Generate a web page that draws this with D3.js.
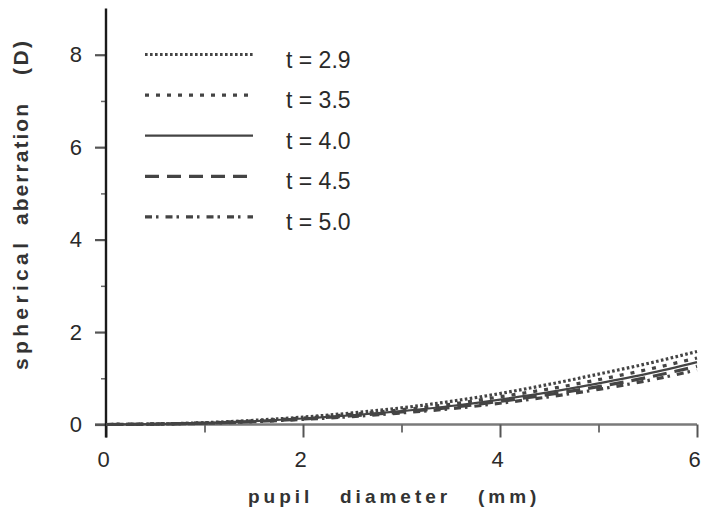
<!DOCTYPE html>
<html><head><meta charset="utf-8">
<script src="https://cdn.jsdelivr.net/npm/d3@7"></script>
<style>html,body{margin:0;padding:0;background:#fff;}svg{display:block;}</style>
</head><body>
<svg id="c" width="703" height="521"></svg>
<script>
// ---- data ----
const diameters = [0, 0.5, 1, 1.5, 2, 2.5, 3, 3.5, 4, 4.5, 5, 5.5, 6];
const seriesNames = ["t = 2.9", "t = 3.5", "t = 4.0", "t = 4.5", "t = 5.0"];
const sa_t29 = [0, 0.01, 0.04, 0.09, 0.16, 0.25, 0.36, 0.50, 0.67, 0.87, 1.09, 1.32, 1.58];
const sa_t35 = [0, 0.01, 0.035, 0.08, 0.14, 0.22, 0.32, 0.44, 0.60, 0.77, 0.97, 1.19, 1.44];
const sa_t40 = [0, 0.01, 0.03, 0.07, 0.13, 0.20, 0.29, 0.40, 0.54, 0.70, 0.89, 1.10, 1.35];
const sa_t45 = [0, 0.01, 0.03, 0.065, 0.12, 0.19, 0.27, 0.37, 0.50, 0.65, 0.82, 1.02, 1.26];
const sa_t50 = [0, 0.01, 0.025, 0.06, 0.11, 0.17, 0.25, 0.34, 0.46, 0.60, 0.76, 0.95, 1.18];
const xTicks = [0, 2, 4, 6];
const xMinorTicks = [1, 3, 5];
const yTicks = [0, 2, 4, 6, 8];
const yMinorTicks = [1, 3, 5, 7];
const xTitleWords = ["pupil", "diameter", "(mm)"];
const yTitleWords = ["spherical", "aberration", "(D)"];

// ---- styles ----
const dashes = ["2.6,2.4", "4,7", null, "14,8", "7,4,2.5,7"];
const allSeries = [sa_t29, sa_t35, sa_t40, sa_t45, sa_t50];
const lineColor = "#444";
const textColor = "#2a2a2a";
const font = "'Liberation Sans', Arial, sans-serif";

const svg = d3.select("#c");
const x = d3.scaleLinear().domain([0, 6]).range([106, 697]);
const y = d3.scaleLinear().domain([0, 9]).range([424.5, 8.5]);

// x axis line (gray)
svg.append("line").attr("x1", 95).attr("x2", x(6)).attr("y1", y(0)).attr("y2", y(0))
  .attr("stroke", "#7a7a7a").attr("stroke-width", 2.5);

// x ticks
const xAxis = d3.axisBottom(x).tickValues(xTicks).tickSize(13).tickFormat(d3.format("d"));
const gx = svg.append("g").attr("transform", `translate(0,${y(0)})`).call(xAxis);
gx.select(".domain").remove();
gx.selectAll(".tick line").attr("stroke", "#555").attr("stroke-width", 2);
gx.selectAll(".tick text").attr("font-family", font).attr("font-size", 22).attr("fill", textColor)
  .attr("dy", null).attr("y", 42).attr("dx", -3);
const xAxisMinor = d3.axisBottom(x).tickValues(xMinorTicks).tickSize(8).tickFormat("");
const gxm = svg.append("g").attr("transform", `translate(0,${y(0)})`).call(xAxisMinor);
gxm.select(".domain").remove();
gxm.selectAll(".tick line").attr("stroke", "#666").attr("stroke-width", 1.8);

// y axis
const yAxis = d3.axisLeft(y).tickValues(yTicks).tickSize(11).tickFormat(d3.format("d"));
const gy = svg.append("g").attr("transform", `translate(${x(0)},0)`).call(yAxis);
gy.select(".domain").remove();
gy.selectAll(".tick line").attr("stroke", "#555").attr("stroke-width", 2.2);
gy.selectAll(".tick text").attr("font-family", font).attr("font-size", 22).attr("fill", textColor)
  .attr("x", -24);
const yAxisMinor = d3.axisLeft(y).tickValues(yMinorTicks).tickSize(5).tickFormat("");
const gym = svg.append("g").attr("transform", `translate(${x(0)},0)`).call(yAxisMinor);
gym.select(".domain").remove();
gym.selectAll(".tick line").attr("stroke", "#666").attr("stroke-width", 1.5);
svg.append("line").attr("x1", x(0)).attr("x2", x(0)).attr("y1", y(9)).attr("y2", y(0) + 13)
  .attr("stroke", "#1a1a1a").attr("stroke-width", 2.4);

// curves
const line = d3.line().x((d, i) => x(diameters[i])).y(d => y(d)).curve(d3.curveMonotoneX);
allSeries.forEach((s, k) => {
  svg.append("path").datum(s).attr("d", line).attr("fill", "none")
    .attr("stroke", lineColor).attr("stroke-width", k === 2 ? 2.2 : 3.2)
    .attr("stroke-dasharray", dashes[k]);
});

// legend
const legY0 = 54.5, legStep = 40.6;
seriesNames.forEach((name, k) => {
  const ly = legY0 + k * legStep;
  svg.append("line").attr("x1", 145).attr("x2", 253).attr("y1", ly).attr("y2", ly)
    .attr("stroke", lineColor).attr("stroke-width", k === 2 ? 2.2 : 3.2)
    .attr("stroke-dasharray", dashes[k]);
  svg.append("text").attr("x", 286).attr("y", ly + 13).text(name)
    .attr("font-family", font).attr("font-size", 23).attr("fill", textColor);
});

// titles (words placed separately, wide letter spacing as in the original)
const xWordX = [248, 340, 478];
xTitleWords.forEach((w, i) => {
  svg.append("text").attr("x", xWordX[i]).attr("y", 503).text(w)
    .attr("font-family", font).attr("font-size", 19).attr("font-weight", "bold")
    .attr("letter-spacing", 4).attr("fill", "#333");
});
const yWordStart = [370, 225, 75];
const yWordLen = [127, 121, 34];
yTitleWords.forEach((w, i) => {
  svg.append("text").attr("transform", `translate(28,${yWordStart[i]}) rotate(-90)`).text(w)
    .attr("font-family", font).attr("font-size", 21).attr("font-weight", "bold")
    .attr("textLength", yWordLen[i]).attr("lengthAdjust", "spacing").attr("fill", "#333");
});
</script>
</body></html>
